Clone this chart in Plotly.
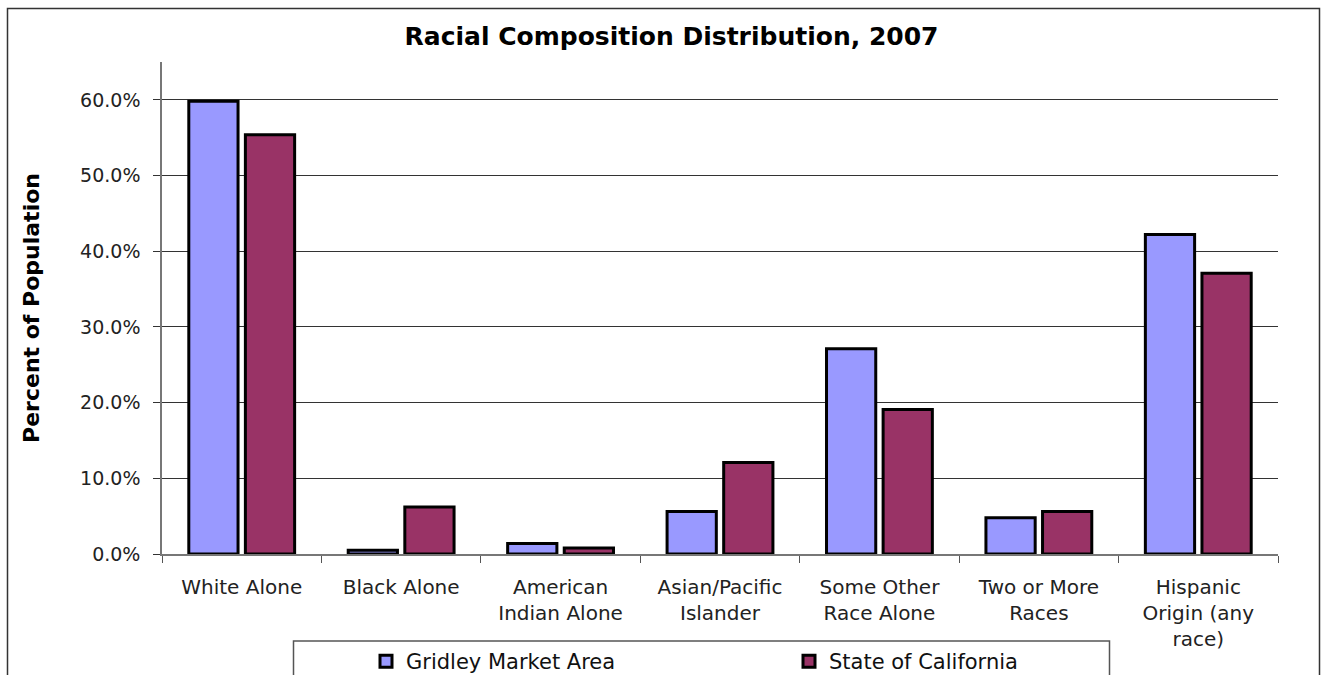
import plotly.graph_objects as go

categories = ["White Alone", "Black Alone", "American<br>Indian Alone", "Asian/Pacific<br>Islander",
              "Some Other<br>Race Alone", "Two or More<br>Races", "Hispanic<br>Origin (any<br>race)"]
gridley = [59.8, 0.5, 1.4, 5.6, 27.1, 4.8, 42.2]
california = [55.4, 6.2, 0.8, 12.1, 19.1, 5.6, 37.1]
series_names = ["Gridley Market Area", "State of California"]
y_ticks = [0, 10, 20, 30, 40, 50, 60]
y_tick_labels = ["0.0%", "10.0%", "20.0%", "30.0%", "40.0%", "50.0%", "60.0%"]

W, H = 1324, 675
L, R, T, B = 162, 46, 62, 120.5
pw, ph = W - L - R, H - T - B

def px(x):
    return (x - L) / pw

def py(y):
    return (H - B - y) / ph

font_main = "DejaVu Sans"

fig = go.Figure()
fig.add_trace(go.Bar(x=categories, y=gridley, name=series_names[0],
                     marker=dict(color="#9999FF", line=dict(color="black", width=3))))
fig.add_trace(go.Bar(x=categories, y=california, name=series_names[1],
                     marker=dict(color="#993366", line=dict(color="black", width=3))))

fig.update_layout(
    width=W, height=H,
    margin=dict(l=L, r=R, t=T, b=B, autoexpand=False),
    paper_bgcolor="white", plot_bgcolor="white",
    barmode="group", bargap=0.29, bargroupgap=0.13,
    font=dict(family=font_main, color="#222", size=18),
    title=dict(text="<b>Racial Composition Distribution, 2007</b>",
               x=671.5 / W, xref="container", xanchor="center",
               y=1 - 36 / H, yanchor="middle",
               font=dict(family="DejaVu Sans", size=25, color="black")),
    showlegend=True,
    legend=dict(orientation="h", x=px(366), xanchor="left",
                yref="container", y=1 - 641 / H, yanchor="top",
                bgcolor="rgba(0,0,0,0)", borderwidth=0,
                entrywidth=378, entrywidthmode="pixels", itemwidth=30,
                font=dict(family=font_main, size=21, color="#111")),
    xaxis=dict(tickson="boundaries", ticks="outside", ticklen=7, tickcolor="#555",
               showline=True, linecolor="#777", linewidth=1.5,
               ticklabelstandoff=14,
               tickfont=dict(family=font_main, size=20, color="#222"),
               showgrid=False),
    yaxis=dict(range=[0, 65], tickvals=y_ticks, ticktext=y_tick_labels,
               ticks="outside", ticklen=7, tickcolor="#333",
               showline=True, linecolor="#777", linewidth=1.5,
               showgrid=True, gridcolor="#333", gridwidth=1,
               zeroline=False, ticklabelstandoff=9,
               tickfont=dict(family=font_main, size=19, color="#222"),
               title=dict(text="<b>Percent of Population</b>", standoff=34,
                          font=dict(family="DejaVu Sans", size=22, color="black"))),
    shapes=[
        dict(type="rect", xref="paper", yref="paper",
             x0=px(7.5), x1=px(1319.5), y0=py(700), y1=py(8.5),
             line=dict(color="#333", width=1.5), fillcolor="rgba(0,0,0,0)", layer="below"),
        dict(type="rect", xref="paper", yref="paper",
             x0=px(293.5), x1=px(1109.5), y0=py(700), y1=py(641.5),
             line=dict(color="#555", width=1.5), fillcolor="rgba(0,0,0,0)", layer="below"),
    ],
)

fig.write_html("out.html")
